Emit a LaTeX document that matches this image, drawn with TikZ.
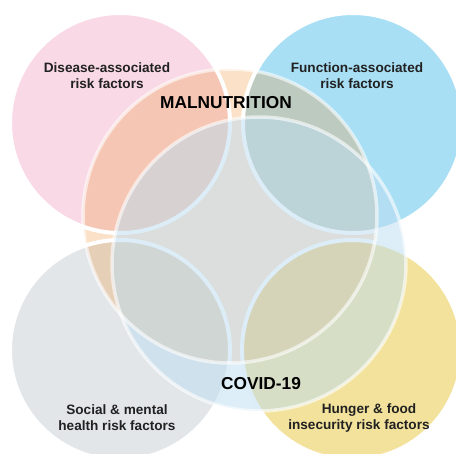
\documentclass[tikz,border=0pt]{standalone}
\usepackage{fontspec}
\setmainfont{Liberation Sans}
\begin{document}
\begin{tikzpicture}[x=1pt,y=-1pt,
  ring/.style={draw=white,line width=4pt},
  bigring/.style={draw=white,draw opacity=0.6,line width=3.5pt},
  risk/.style={font=\bfseries\fontsize{13.6}{16}\selectfont,text=black!87,align=center,inner sep=0pt},
  title/.style={font=\bfseries\fontsize{17.3}{20}\selectfont,text=black,inner sep=0pt}]
\definecolor{pinkc}{RGB}{249,217,229}
\definecolor{bluec}{RGB}{168,223,245}
\definecolor{grayc}{RGB}{227,230,233}
\definecolor{yellowc}{RGB}{242,226,156}
\definecolor{malc}{RGB}{238,155,68}
\definecolor{covc}{RGB}{188,221,241}
\useasboundingbox (0,0) rectangle (456,454);
\coordinate (pc) at (120,123);
\coordinate (bc) at (353,123);
\coordinate (gc) at (120,350);
\coordinate (yc) at (352,350);
\coordinate (mc) at (230,216);
\coordinate (cc) at (259,264);
\begin{scope}
\clip (0,0) rectangle (456,454);
% risk-factor discs
\fill[pinkc] (pc) circle (110);
\fill[bluec] (bc) circle (110);
\fill[grayc] (gc) circle (110);
\fill[yellowc] (yc) circle (110);
% malnutrition disc
\fill[malc,fill opacity=0.3] (mc) circle (147);
% white rims of the risk-factor discs
\foreach \c in {pc,bc,gc,yc} \draw[ring] (\c) circle (110);
% covid disc and rims of the two large discs
\fill[covc,fill opacity=0.5] (cc) circle (147);
\draw[bigring] (cc) circle (147);
\draw[bigring] (mc) circle (147);
\end{scope}
% labels
\node[risk] (dis) at (107,75.5) {Disease-associated\\risk factors};
\node[risk] (fun) at (357,75.5) {Function-associated\\risk factors};
\node[risk] (soc) at (117,417.5) {Social \& mental\\health risk factors};
\node[risk] (hun) at (359,417.5) {\hspace*{20pt}Hunger \& food\\insecurity risk factors};
\node[title] (mal) at (226,103) {MALNUTRITION};
\node[title] (cov) at (261,384) {COVID-19};
\end{tikzpicture}
\end{document}
